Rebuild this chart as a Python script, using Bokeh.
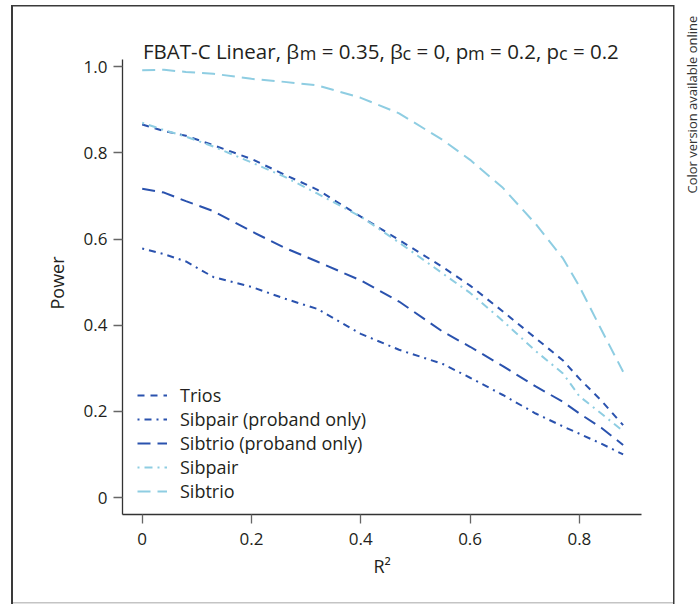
from math import pi
from bokeh.plotting import figure
from bokeh.models import Range1d, FixedTicker, Label, Legend, Title
from bokeh.embed import file_html
from bokeh.resources import INLINE

# ---- data ----
r2 = [0.0, 0.04, 0.08, 0.13, 0.2, 0.26, 0.32, 0.4, 0.47, 0.55, 0.6, 0.66, 0.72, 0.77, 0.8, 0.84, 0.88]
trios = [0.866, 0.851, 0.840, 0.818, 0.786, 0.750, 0.715, 0.652, 0.598, 0.535, 0.492, 0.432, 0.370, 0.318, 0.276, 0.225, 0.168]
sibpair_pb = [0.578, 0.565, 0.548, 0.512, 0.489, 0.462, 0.438, 0.380, 0.343, 0.310, 0.278, 0.238, 0.195, 0.165, 0.148, 0.125, 0.100]
sibtrio_pb = [0.717, 0.708, 0.688, 0.665, 0.618, 0.580, 0.548, 0.504, 0.455, 0.385, 0.350, 0.305, 0.258, 0.222, 0.195, 0.162, 0.122]
sibpair = [0.870, 0.853, 0.838, 0.815, 0.778, 0.745, 0.706, 0.652, 0.592, 0.520, 0.475, 0.410, 0.340, 0.288, 0.235, 0.195, 0.154]
sibtrio = [0.992, 0.993, 0.988, 0.984, 0.972, 0.965, 0.957, 0.928, 0.892, 0.830, 0.784, 0.719, 0.635, 0.555, 0.490, 0.390, 0.292]

series_names = ["Trios", "Sibpair (proband only)", "Sibtrio (proband only)", "Sibpair", "Sibtrio"]
x_ticks = [0, 0.2, 0.4, 0.6, 0.8]
x_tick_labels = ["0", "0.2", "0.4", "0.6", "0.8"]
y_ticks = [0, 0.2, 0.4, 0.6, 0.8, 1.0]
y_tick_labels = ["0", "0.2", "0.4", "0.6", "0.8", "1.0"]

DARK = "#2a52ae"
LIGHT = "#8ecde2"
FONT = "Open Sans"
TXT = "#231f20"
BORDER = "#3a3a3a"
BORDER_B = "#c4c4c4"

# frame spans page x 122..700 and y 0..514; axes drawn only over their bounds
p = figure(width=700, height=605, output_backend="svg", toolbar_location=None,
           x_range=Range1d(-0.03605, 1.02159), y_range=Range1d(-0.03947, 1.15394),
           min_border_left=122, min_border_right=0, min_border_top=0, min_border_bottom=91)
p.outline_line_color = None
p.grid.visible = False
p.background_fill_alpha = 0
p.border_fill_alpha = 0

# outer decorative frame drawn with CSS behind the transparent canvas
grad_d = "linear-gradient(%s, %s)" % (BORDER, BORDER)
grad_l = "linear-gradient(%s, %s)" % (BORDER_B, BORDER_B)
p.styles = {
    "background-color": "white",
    "background-image": ", ".join([grad_d, grad_d, grad_d, grad_l]),
    "background-position": "12px 4.5px, 11px 4.5px, 673px 4.5px, 12px 602.4px",
    "background-size": "662px 1.5px, 2px 599px, 1.5px 599px, 662px 1.5px",
    "background-repeat": "no-repeat",
}

for ax in (p.xaxis[0], p.yaxis[0]):
    ax.axis_line_color = "#333333"
    ax.axis_line_width = 1.3
    ax.major_tick_line_color = "#666666"
    ax.major_tick_line_width = 1.3
    ax.major_tick_out = 9
    ax.major_tick_in = 0
    ax.minor_tick_line_color = None
    ax.major_label_text_font = FONT
    ax.major_label_text_font_size = "17px"
    ax.major_label_text_color = TXT

p.xaxis.bounds = (-0.0355, 0.914)
p.yaxis.bounds = (-0.0395, 1.017)
p.xaxis.ticker = FixedTicker(ticks=x_ticks)
p.xaxis.major_label_overrides = dict(zip(x_ticks, x_tick_labels))
p.yaxis.ticker = FixedTicker(ticks=y_ticks)
p.yaxis.major_label_overrides = dict(zip(y_ticks, y_tick_labels))
p.xaxis.major_label_standoff = 9
p.yaxis.major_label_standoff = 6

# axis titles (side-panel titles so they can be centred on the axis bounds)
p.add_layout(Title(text="R²", align="left", offset=251, standoff=8,
                   text_font=FONT, text_font_size="18px", text_font_style="normal",
                   text_color=TXT), "below")
p.add_layout(Title(text="Power", align="left", offset=205, standoff=24,
                   text_font=FONT, text_font_size="18px", text_font_style="normal",
                   text_color=TXT), "left")

styles = [
    (trios, DARK, "7 6"),
    (sibpair_pb, DARK, "2 5 7 5"),
    (sibtrio_pb, DARK, "13 7"),
    (sibpair, LIGHT, "2 5 8 5"),
    (sibtrio, LIGHT, "13 7"),
]
items = []
for (ys, col, dash), name in zip(styles, series_names):
    r = p.line(r2, ys, line_color=col, line_width=2, line_dash=dash)
    items.append((name, [r]))

legend = Legend(items=items, location=(15, 11), orientation="vertical",
                label_text_font=FONT, label_text_font_size="18px", label_text_color=TXT,
                glyph_width=30, glyph_height=20, label_height=20, spacing=0,
                label_standoff=13, padding=0, margin=0,
                border_line_color=None, background_fill_alpha=0)
p.add_layout(legend, "center")

# ---- title from pieces (subscripts lowered); positions are page px ----
FL, FB = 122.0, 514.0
title_pieces = [
    ("FBAT-C Linear, β", 142.5, False),
    ("m", 299.3, True),
    ("= 0.35, β", 321.3, False),
    ("c", 402.0, True),
    ("= 0, p", 415.9, False),
    ("m", 467.6, True),
    ("= 0.2, p", 489.6, False),
    ("c", 558.5, True),
    ("= 0.2", 572.4, False),
]
for txt, px, sub in title_pieces:
    base = 52.9 if sub else 50.3
    p.add_layout(Label(x=px - FL, y=FB - base, x_units="screen", y_units="screen", text=txt,
                       text_font=FONT, text_font_size="18px" if sub else "20.5px",
                       text_color=TXT, text_align="left", text_baseline="alphabetic"))

p.add_layout(Label(x=691.0 - FL, y=FB - 193, x_units="screen", y_units="screen",
                   text="Color version available online", angle=pi / 2,
                   text_font=FONT, text_font_size="13px", text_color="#333333",
                   text_align="left", text_baseline="middle"))

open("out.html", "w").write(file_html(p, INLINE))
